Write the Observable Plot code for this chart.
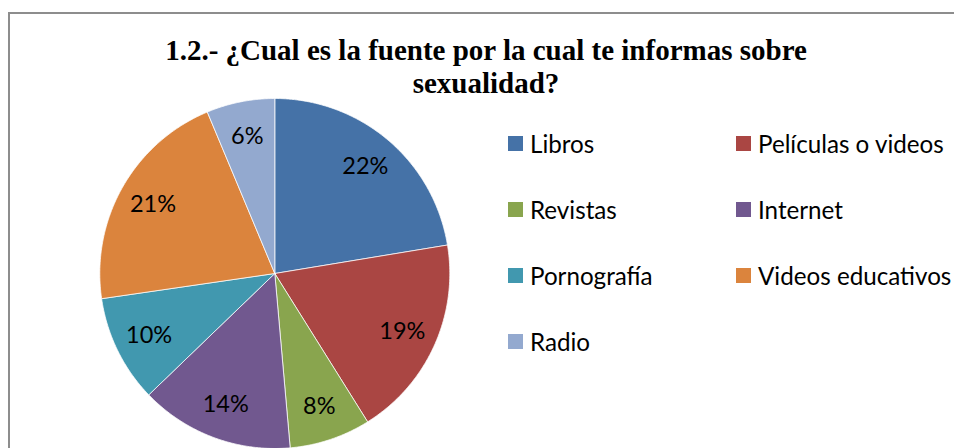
<!DOCTYPE html>
<html>
<head>
<meta charset="utf-8">
<script src="https://cdn.jsdelivr.net/npm/d3@7"></script>
<script src="https://cdn.jsdelivr.net/npm/@observablehq/plot@0.6"></script>
<style>
  html, body { margin: 0; padding: 0; background: #fff; }
  #wrap { position: relative; width: 954px; height: 448px; overflow: hidden; background: #fff; }
  #frame { position: absolute; left: 8px; top: 12px; width: 1000px; height: 500px;
           border-top: 2px solid #8d8d8d; border-left: 2px solid #8d8d8d; box-sizing: border-box; }
  #title { position: absolute; left: 0; top: 33.7px; width: 972px; text-align: center;
           font-family: "Liberation Serif", "Times New Roman", serif; font-weight: bold;
           font-size: 29px; line-height: 33px; color: #000; }
  #chart { position: absolute; left: 0; top: 0; }
  #legend { position: absolute; left: 508px; top: 110px; display: grid;
            grid-template-columns: 228px 220px; grid-auto-rows: 66px; }
  .item { display: flex; align-items: center; font-family: Lato, "Open Sans", sans-serif;
          font-size: 24.2px; color: #000; white-space: nowrap; }
  .sw { width: 15px; height: 15px; margin-right: 7px; flex: none; }
</style>
</head>
<body>
<div id="wrap">
  <div id="frame"></div>
  <div id="chart"></div>
  <div id="title">1.2.- ¿Cual es la fuente por la cual te informas sobre<br>sexualidad?</div>
  <div id="legend"></div>
</div>
<script>
const categories = ["Libros", "Películas o videos", "Revistas", "Internet", "Pornografía", "Videos educativos", "Radio"];
const values = [22.4, 18.7, 7.5, 14.2, 9.9, 21.0, 6.3];
const labels = ["22%", "19%", "8%", "14%", "10%", "21%", "6%"];
const colors = ["#4572A7", "#AA4643", "#89A54E", "#71588F", "#4198AF", "#DB843D", "#93A9CF"];

const total = d3.sum(values);
const poly = [];
const labs = [];
let acc = 0;
values.forEach((v, i) => {
  const a0 = acc / total * 2 * Math.PI;
  acc += v;
  const a1 = acc / total * 2 * Math.PI;
  poly.push({cat: categories[i], x: 0, y: 0});
  const n = Math.max(2, Math.ceil((a1 - a0) / (Math.PI / 360)));
  for (let k = 0; k <= n; k++) {
    const a = a0 + (a1 - a0) * k / n;
    poly.push({cat: categories[i], x: Math.sin(a), y: Math.cos(a)});
  }
  poly.push({cat: categories[i], x: 0, y: 0});
  const am = (a0 + a1) / 2;
  labs.push({cat: categories[i], text: labels[i], x: 0.8 * Math.sin(am), y: 0.8 * Math.cos(am)});
});

const W = 954, H = 448, cx = 274.3, cy = 273, R = 175;
const chart = Plot.plot({
  width: W, height: H, margin: 0,
  style: {background: "transparent", fontFamily: "Lato, 'Open Sans', sans-serif"},
  x: {domain: [-cx / R, (W - cx) / R], axis: null},
  y: {domain: [-(H - cy) / R, cy / R], axis: null},
  color: {domain: categories, range: colors},
  marks: [
    Plot.line(poly, {x: "x", y: "y", z: "cat", fill: "cat", stroke: "white", strokeWidth: 1, strokeOpacity: 0.75, curve: "linear"}),
    Plot.text(labs, {x: "x", y: "y", text: "text", fill: "black", fontSize: 23.5, fontFamily: "Lato, 'Open Sans', sans-serif"})
  ]
});
document.getElementById("chart").appendChild(chart);

const legend = document.getElementById("legend");
categories.forEach((c, i) => {
  const it = document.createElement("div");
  it.className = "item";
  const sw = document.createElement("span");
  sw.className = "sw";
  sw.style.background = colors[i];
  it.appendChild(sw);
  it.appendChild(document.createTextNode(c));
  legend.appendChild(it);
});
</script>
</body>
</html>
